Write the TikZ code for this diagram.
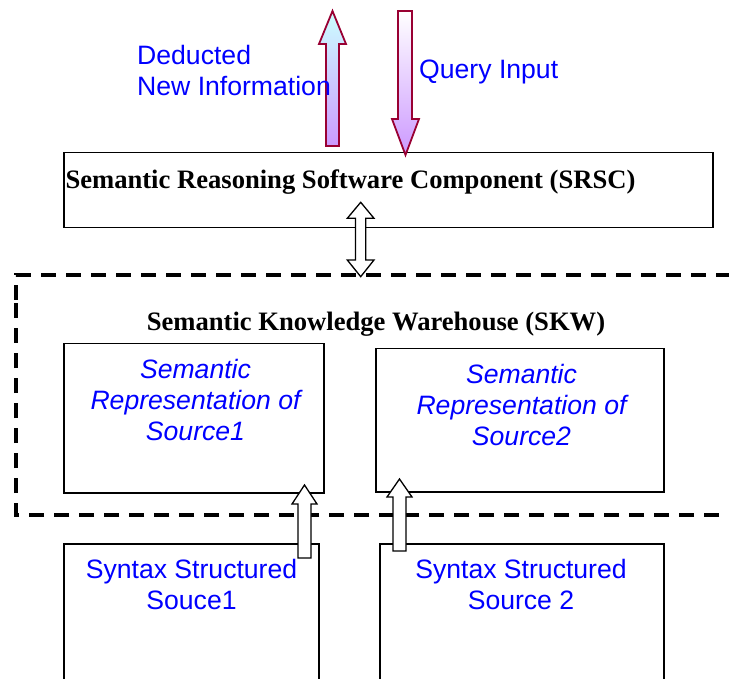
\documentclass[tikz,border=0pt]{standalone}
\usepackage{fontspec}
\setmainfont{Liberation Serif}
\newfontfamily\arialf{Liberation Sans}
\definecolor{arrowred}{HTML}{990033}
\definecolor{violetb}{HTML}{CC99FF}
\definecolor{cyanl}{HTML}{CCFFFF}
\definecolor{txtblue}{HTML}{0000FF}
\begin{document}
\begin{tikzpicture}[x=1pt,y=-1pt,
  box/.style={draw, line width=1.5pt, inner sep=0pt, anchor=north west},
  serifbold/.style={font=\fontsize{26.6}{31}\selectfont\bfseries, inner sep=0pt},
  bluetext/.style={font=\arialf\fontsize{26.6}{31}\selectfont, text=txtblue, inner sep=0pt, align=center},
  bluetextit/.style={font=\arialf\fontsize{26.6}{31}\selectfont\itshape, text=txtblue, inner sep=0pt, align=center},
  blockarrow/.style={draw=black, line width=1.3pt, fill=white, line join=miter},
  gradarrow/.style={draw=arrowred, line width=1.8pt, line join=miter}
]
\useasboundingbox (0,0) rectangle (729,679);
\clip (0,0) rectangle (729,679);

% SKW dashed container
\draw[line width=3.5pt, dash pattern=on 15pt off 10pt] (16,300) -- (16,275) -- (760,275) -- (760,515) -- (16,515) -- cycle;

% boxes
\node[box, minimum width=649pt, minimum height=75pt] (srsc) at (63,152) {};
\node[box, minimum width=260pt, minimum height=149pt] (rep1) at (63,343) {};
\node[box, minimum width=288pt, minimum height=143pt] (rep2) at (375,348) {};
\node[box, minimum width=255pt, minimum height=160pt] (syn1) at (63,543) {};
\node[box, minimum width=284pt, minimum height=160pt] (syn2) at (379,543) {};

% gradient arrows at top
\path[gradarrow, top color=cyanl, bottom color=violetb]
  (326,146) -- (326,44) -- (319,44) -- (332.5,11) -- (346,44) -- (339,44) -- (339,146) -- cycle;
\path[gradarrow, top color=white, bottom color=violetb]
  (398,11) -- (398,119) -- (392,119) -- (405.5,155) -- (419,119) -- (412,119) -- (412,11) -- cycle;

% double arrow between SRSC and SKW
\path[blockarrow]
  (360.7,202.3) -- (374,218.3) -- (365.7,218.3) -- (365.7,260) -- (374,260) -- (360.7,276.7)
  -- (347.3,260) -- (355.5,260) -- (355.5,218.3) -- (347.3,218.3) -- cycle;

% small up arrows from sources to representations
\path[blockarrow]
  (298,558) -- (298,504) -- (292,504) -- (304.5,485) -- (317,504) -- (311,504) -- (311,558) -- cycle;
\path[blockarrow]
  (393,551) -- (393,497) -- (387,497) -- (399.5,479) -- (412,497) -- (406,497) -- (406,551) -- cycle;

% texts
\node[serifbold, anchor=base] (srsctxt) at (350.5,188.3) {Semantic Reasoning Software Component (SRSC)};
\node[serifbold, anchor=base] (skwtxt) at (376,330.5) {Semantic Knowledge Warehouse (SKW)};
\node[bluetext, align=left, anchor=west] (deduct) at (137,70.5) {Deducted\\New Information};
\node[bluetext, anchor=base west] (query) at (419,78.3) {Query Input};
\node[bluetextit] (rep1txt) at (195.5,399.5) {Semantic\\Representation of\\Source1};
\node[bluetextit] (rep2txt) at (521.5,404.5) {Semantic\\Representation of\\Source2};
\node[bluetext] (syn1txt) at (191.5,584) {Syntax Structured\\Souce1};
\node[bluetext] (syn2txt) at (521,584) {Syntax Structured\\Source 2};
\end{tikzpicture}
\end{document}
